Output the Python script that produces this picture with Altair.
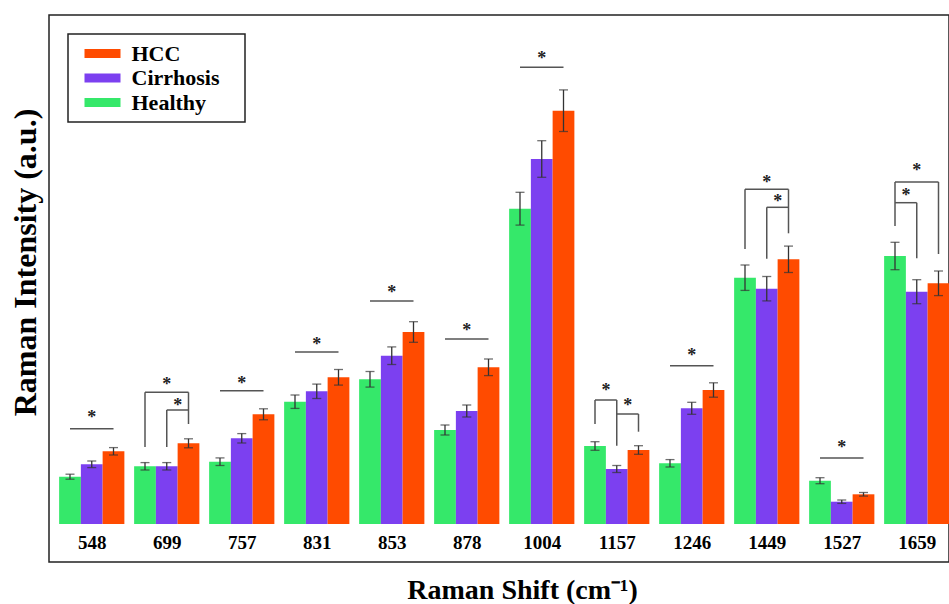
import json
import altair as alt
import pandas as pd

# ---------------- data ----------------
groups = ["548", "699", "757", "831", "853", "878", "1004", "1157", "1246", "1449", "1527", "1659"]
series = ["Healthy", "Cirrhosis", "HCC"]
legend_order = ["HCC", "Cirrhosis", "Healthy"]

healthy = [0.473, 0.577, 0.623, 1.223, 1.447, 0.940, 3.153, 0.780, 0.607, 2.463, 0.433, 2.680]
cirrhosis = [0.597, 0.577, 0.857, 1.327, 1.683, 1.130, 3.650, 0.550, 1.157, 2.353, 0.223, 2.323]
hcc = [0.727, 0.807, 1.097, 1.467, 1.920, 1.567, 4.133, 0.740, 1.340, 2.647, 0.297, 2.407]

healthy_err = [0.025, 0.037, 0.038, 0.067, 0.078, 0.050, 0.164, 0.043, 0.037, 0.127, 0.030, 0.137]
cirrhosis_err = [0.033, 0.037, 0.047, 0.072, 0.088, 0.060, 0.183, 0.035, 0.060, 0.122, 0.017, 0.120]
hcc_err = [0.037, 0.045, 0.055, 0.078, 0.103, 0.083, 0.208, 0.043, 0.072, 0.132, 0.018, 0.123]

# significance brackets: (group, from series, to series, bracket height, from-leg bottom, to-leg bottom)
brackets = [
    ("548", "Healthy", "HCC", 0.953, None, None),
    ("699", "Healthy", "HCC", 1.317, 0.770, 1.000),
    ("699", "Cirrhosis", "HCC", 1.140, 0.770, None),
    ("757", "Healthy", "HCC", 1.333, None, None),
    ("831", "Healthy", "HCC", 1.720, None, None),
    ("853", "Healthy", "HCC", 2.230, None, None),
    ("878", "Healthy", "HCC", 1.850, None, None),
    ("1004", "Healthy", "HCC", 4.567, None, None),
    ("1157", "Healthy", "Cirrhosis", 1.240, 1.000, 0.783),
    ("1157", "Cirrhosis", "HCC", 1.100, None, 0.923),
    ("1246", "Healthy", "HCC", 1.583, None, None),
    ("1449", "Healthy", "HCC", 3.347, 2.750, 2.907),
    ("1449", "Cirrhosis", "HCC", 3.167, 2.653, None),
    ("1527", "Healthy", "HCC", 0.660, None, None),
    ("1659", "Healthy", "HCC", 3.420, 2.980, 2.700),
    ("1659", "Healthy", "Cirrhosis", 3.213, None, 2.657),
]
# asterisks: (group, from series, to series, height)
stars = [
    ("548", "Healthy", "HCC", 1.09),
    ("699", "Healthy", "HCC", 1.42),
    ("699", "Cirrhosis", "HCC", 1.213),
    ("757", "Healthy", "HCC", 1.43),
    ("831", "Healthy", "HCC", 1.823),
    ("853", "Healthy", "HCC", 2.34),
    ("878", "Healthy", "HCC", 1.963),
    ("1004", "Healthy", "HCC", 4.68),
    ("1157", "Healthy", "Cirrhosis", 1.357),
    ("1157", "Cirrhosis", "HCC", 1.213),
    ("1246", "Healthy", "HCC", 1.707),
    ("1449", "Healthy", "HCC", 3.44),
    ("1449", "Cirrhosis", "HCC", 3.247),
    ("1527", "Healthy", "HCC", 0.79),
    ("1659", "Healthy", "HCC", 3.557),
    ("1659", "Healthy", "Cirrhosis", 3.307),
]

colors = {"HCC": "#FF4B00", "Cirrhosis": "#7C40F0", "Healthy": "#35E86A"}

# ---------------- layout helpers ----------------
GROUP_W = 0.87
BAR_W = GROUP_W / 3


def xcenter(g, s):
    return groups.index(g) - GROUP_W / 2 + (series.index(s) + 0.5) * BAR_W


vals = {"Healthy": (healthy, healthy_err), "Cirrhosis": (cirrhosis, cirrhosis_err), "HCC": (hcc, hcc_err)}
rows = []
for s in series:
    v, e = vals[s]
    for i, g in enumerate(groups):
        xc = xcenter(g, s)
        rows.append({"group": g, "series": s, "mean": v[i], "lo": v[i] - e[i], "hi": v[i] + e[i],
                     "xc": xc, "x0": xc - BAR_W / 2, "x1": xc + BAR_W / 2})
bars_df = pd.DataFrame(rows)

segs = []
for g, a, b, top, la, lb in brackets:
    segs.append({"x": xcenter(g, a), "x2": xcenter(g, b), "y": top, "y2": top})
    if la is not None:
        segs.append({"x": xcenter(g, a), "x2": xcenter(g, a), "y": la, "y2": top})
    if lb is not None:
        segs.append({"x": xcenter(g, b), "x2": xcenter(g, b), "y": lb, "y2": top})
seg_df = pd.DataFrame(segs)

star_df = pd.DataFrame([{"x": (xcenter(g, a) + xcenter(g, b)) / 2, "y": h, "t": "*"} for g, a, b, h in stars])

# ---------------- chart ----------------
FONT = "Liberation Serif"
xs = alt.Scale(domain=[-0.57, 11.43], nice=False, zero=False)
ys = alt.Scale(domain=[-0.38, 5.09], nice=False, zero=False)

xaxis = alt.Axis(
    title="Raman Shift (cm\u207b\u00b9)", values=list(range(len(groups))),
    labelExpr=json.dumps(groups) + "[datum.value]",
    offset=-38, domain=False, ticks=False, tickSize=0, grid=False,
    labelPadding=18, labelBaseline="middle", labelFont=FONT, labelFontSize=19,
    labelFontWeight="bold", labelColor="black",
    titleFont=FONT, titleFontSize=28, titleFontWeight="bold", titleColor="black",
    titleX=473, titleY=66, titleBaseline="middle", titleAlign="center",
)
yaxis = alt.Axis(
    title="Raman Intensity (a.u.)", labels=False, ticks=False, domain=False, grid=False,
    titleFont=FONT, titleFontSize=32, titleFontWeight="bold", titleColor="black",
    titleX=-24, titleY=247, titleAngle=-90, titleBaseline="middle", titleAlign="center",
)

# trailing no-break spaces (kept by a zero-width space) widen the legend frame like the original
legend = alt.Legend(
    title=None, orient="none", legendX=19, legendY=19, direction="vertical",
    symbolType="M-2,-0.5H2V0.5H-2Z", symbolSize=324, symbolStrokeWidth=0, symbolOffset=15,
    labelFont=FONT, labelFontSize=22, labelFontWeight="bold", labelColor="black",
    labelOffset=18, rowPadding=2.5, padding=8.5,
    strokeColor="#222", fillColor="white",
    labelExpr="datum.label + '\u00a0\u00a0\u00a0\u200b'",
)

bars = alt.Chart(bars_df).mark_bar(strokeWidth=0).encode(
    x=alt.X("x0:Q", scale=xs, axis=xaxis),
    x2="x1:Q",
    y=alt.Y("mean:Q", scale=ys, axis=yaxis),
    y2=alt.datum(0),
    color=alt.Color("series:N", scale=alt.Scale(domain=legend_order,
                                                range=[colors[s] for s in legend_order]),
                    legend=legend),
)

err = alt.Chart(bars_df).mark_rule(color="#333", strokeWidth=1.3).encode(
    x=alt.X("xc:Q", scale=xs, axis=xaxis),
    y=alt.Y("lo:Q", scale=ys, axis=yaxis),
    y2="hi:Q",
)

caps = alt.Chart(bars_df).transform_fold(["lo", "hi"], as_=["end", "ev"]).mark_tick(
    orient="horizontal", size=9, thickness=1.3, color="#333"
).encode(
    x=alt.X("xc:Q", scale=xs, axis=xaxis),
    y=alt.Y("ev:Q", scale=ys, axis=yaxis),
)

lines = alt.Chart(seg_df).mark_rule(color="#555", strokeWidth=1.5).encode(
    x=alt.X("x:Q", scale=xs, axis=xaxis),
    x2="x2:Q",
    y=alt.Y("y:Q", scale=ys, axis=yaxis),
    y2="y2:Q",
)

asterisks = alt.Chart(star_df).mark_text(
    font=FONT, fontSize=18, fontWeight="bold", color="#222", baseline="middle", dy=3
).encode(
    x=alt.X("x:Q", scale=xs, axis=xaxis),
    y=alt.Y("y:Q", scale=ys, axis=yaxis),
    text="t:N",
)

chart = alt.layer(bars, err, caps, lines, asterisks).properties(
    width=900, height=547,
    autosize=alt.AutoSizeParams(type="none"),
    padding={"left": 49, "top": 15, "right": 0, "bottom": 42},
).configure_view(stroke="#222", strokeWidth=1.5).configure_legend(
    strokeWidth=1.5, labelFont=FONT, labelFontWeight="bold"
)

chart.save("out.html", embed_options={"renderer": "svg", "actions": False})
